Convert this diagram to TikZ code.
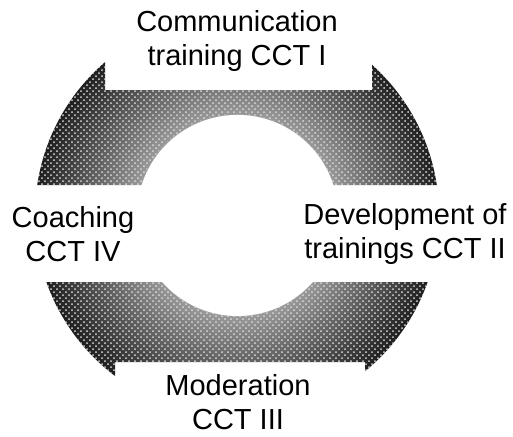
\documentclass[tikz,border=0pt]{standalone}
\usepackage{fontspec}
\setmainfont{Liberation Sans}
\usetikzlibrary{calc,positioning,patterns}
\pgfdeclareradialshading{ringshade}{\pgfpoint{0bp}{0bp}}{%
  color(0bp)=(white); color(12.4bp)=(white); color(12.5bp)=(black!40);
  color(25bp)=(black!88); color(50bp)=(black!88)}
\tikzset{
  cycletext/.style={align=center, inner sep=0pt,
    font=\fontsize{14.5}{17}\selectfont},
  ringpart/.style={shading=ringshade},
  ringdots/.style={pattern=crosshatch dots, pattern color=white!85!black},
}

\begin{document}
\begin{tikzpicture}[x=0.5pt,y=-0.5pt]
  \useasboundingbox (0,0) rectangle (513,436);
  \coordinate (mid) at (237,215);
  % upper arc
  \begin{scope}
    \clip (0,0) -- (105,0) -- (105,90) -- (372,90) -- (372,0) -- (513,0)
      -- (513,185) -- (0,185) -- cycle;
    \shade[ringpart] (mid) circle (202);
    \fill[ringdots, even odd rule] (mid) circle (202) (mid) circle (101);
  \end{scope}
  % lower arc
  \begin{scope}
    \clip (0,282) -- (513,282) -- (513,436) -- (365,436) -- (365,362)
      -- (115,362) -- (115,436) -- (0,436) -- cycle;
    \shade[ringpart] (mid) circle (202);
    \fill[ringdots, even odd rule] (mid) circle (202) (mid) circle (101);
  \end{scope}
  \node[cycletext] (cct1) at (237,41) {Communication\\training CCT I};
  \node[cycletext] (cct2) at (405,234) {Development of\\trainings CCT II};
  \node[cycletext] (cct3) at (238,402) {Moderation\\CCT III};
  \node[cycletext] (cct4) at (73,234) {Coaching\\CCT IV};
\end{tikzpicture}
\end{document}
